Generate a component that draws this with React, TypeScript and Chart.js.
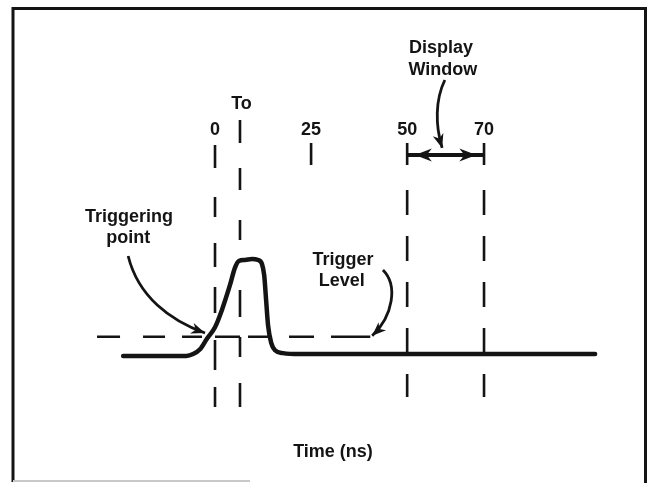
import { useEffect, useRef } from "react";
import { Chart, registerables } from "chart.js";

Chart.register(...registerables);

// ---- data (time in ns, amplitude in units of pulse height) ----
const waveTimes = [-23.9, -7.5, -5.7, -3.9, -2.1, 0, 1.8, 3.9, 5.2, 6.2, 7.8, 9.6, 11.2, 12.2, 12.8, 13.3, 13.8, 14.6, 15.6, 17.7, 22.1, 98.9];
const waveLevels = [0, 0, 0.02, 0.07, 0.18, 0.3, 0.48, 0.74, 0.92, 0.99, 1.0, 1.01, 1.0, 0.96, 0.84, 0.58, 0.32, 0.14, 0.06, 0.03, 0.02, 0.02];
const triggerLevel = 0.2;
const triggerStart = -30.7;
const triggerEnd = 40.4;
const tickTimes = [0, 25, 50, 70];
const tickLabels = ["0", "25", "50", "70"];
const toTime = 6.5;
const toLabel = "To";
const windowStart = 50;
const windowEnd = 70;
const axisTitle = "Time (ns)";

const X_MIN = -55.95;
const X_MAX = 112.67;
const Y_MIN = -1.3229;
const Y_MAX = 3.7083;

const INK = "#141414";
const FONT = "bold 18px 'Liberation Sans', Arial, sans-serif";

type P = { x: number; y: number };

function seg(t: number, y0: number, y1: number): P[] {
  return [
    { x: t, y: y0 },
    { x: t, y: y1 },
  ];
}

function guide(data: P[], dash: number[] = [], width = 2.6) {
  return {
    data,
    borderColor: INK,
    borderWidth: width,
    borderDash: dash,
    pointRadius: 0,
    tension: 0,
    fill: false,
    borderCapStyle: "butt" as const,
  };
}

function head(ctx: CanvasRenderingContext2D, x: number, y: number, ang: number, len = 14, half = 5.5) {
  ctx.save();
  ctx.translate(x, y);
  ctx.rotate(ang);
  ctx.beginPath();
  ctx.moveTo(0, 0);
  ctx.lineTo(-len, -half);
  ctx.lineTo(-len * 0.7, 0);
  ctx.lineTo(-len, half);
  ctx.closePath();
  ctx.fill();
  ctx.restore();
}

const annotate = {
  id: "annotate",
  beforeDraw(chart: any) {
    const { ctx, width, height } = chart;
    ctx.save();
    ctx.fillStyle = "#ffffff";
    ctx.fillRect(0, 0, width, height);
    ctx.strokeStyle = INK;
    ctx.lineWidth = 3;
    ctx.beginPath();
    ctx.moveTo(13, 482);
    ctx.lineTo(13, 8.5);
    ctx.lineTo(645.5, 8.5);
    ctx.lineTo(645.5, 483);
    ctx.stroke();
    ctx.strokeStyle = "#c8c8c8";
    ctx.lineWidth = 2;
    ctx.beginPath();
    ctx.moveTo(13, 481);
    ctx.lineTo(250, 481);
    ctx.stroke();
    ctx.restore();
  },
  afterDraw(chart: any) {
    const { ctx } = chart;
    const xs = chart.scales.x;
    const ys = chart.scales.y;
    const px = (v: number) => xs.getPixelForValue(v);
    const py = (v: number) => ys.getPixelForValue(v);
    ctx.save();
    ctx.fillStyle = INK;
    ctx.strokeStyle = INK;
    ctx.font = FONT;
    ctx.textAlign = "center";
    ctx.textBaseline = "middle";

    const text = (s: string, x: number, y: number) => ctx.fillText(s, px(x), py(y));
    tickTimes.forEach((t, i) => text(tickLabels[i], t, 2.354));
    text(toLabel, toTime + 0.4, 2.625);
    text("Display", 58.8, 3.208);
    text("Window", 59.3, 2.979);
    text("Triggering", -22.4, 1.448);
    text("point", -22.6, 1.229);
    text("Trigger", 33.3, 1.0);
    text("Level", 33.0, 0.781);
    text(axisTitle, 30.7, -1.0);

    // curved arrows
    const curve = (pts: number[][]) => {
      const q = pts.map(([a, b]) => [px(a), py(b)]);
      ctx.lineWidth = 2.8;
      ctx.beginPath();
      ctx.moveTo(q[0][0], q[0][1]);
      ctx.bezierCurveTo(q[1][0], q[1][1], q[2][0], q[2][1], q[3][0], q[3][1]);
      ctx.stroke();
      const ang = Math.atan2(q[3][1] - q[2][1], q[3][0] - q[2][0]);
      head(ctx, q[3][0], q[3][1], ang);
    };
    curve([
      [-22.6, 1.042],
      [-20.0, 0.62],
      [-11.7, 0.37],
      [-2.6, 0.24],
    ]);
    curve([
      [43.7, 0.896],
      [47.6, 0.74],
      [46.4, 0.42],
      [40.9, 0.21],
    ]);
    curve([
      [59.8, 2.875],
      [57.3, 2.667],
      [57.3, 2.406],
      [59.1, 2.167],
    ]);

    // display window double arrow
    const yArr = py(2.094);
    ctx.lineWidth = 4;
    ctx.beginPath();
    ctx.moveTo(px(windowStart), yArr);
    ctx.lineTo(px(windowEnd), yArr);
    ctx.stroke();
    head(ctx, px(windowStart + 2), yArr, Math.PI, 17, 6.5);
    head(ctx, px(windowEnd - 2), yArr, 0, 17, 6.5);
    ctx.restore();
  },
};

export default function App() {
  const ref = useRef<HTMLCanvasElement | null>(null);
  useEffect(() => {
    if (!ref.current) return;
    const wave: P[] = waveTimes.map((t, i) => ({ x: t, y: waveLevels[i] }));
    const chart = new Chart(ref.current, {
      type: "line",
      data: {
        datasets: [
          guide(
            [{ x: triggerStart, y: triggerLevel }, { x: triggerEnd, y: triggerLevel }],
            [23, 23, 22, 17, 20, 13, 25, 8, 21, 20, 25, 17, 40, 10],
            2.6
          ),
          guide(seg(0, 2.198, -0.531), [23, 29, 20, 26, 24, 20, 26, 27, 30, 17, 22, 10]),
          guide(seg(toTime, 2.458, 2.219)),
          guide(seg(toTime, -0.531, 1.958), [24, 26, 20, 20, 27, 50, 20, 30, 22, 10]),
          guide(seg(25, 2.219, 1.99)),
          guide(seg(windowStart, 2.219, 1.99)),
          guide(seg(windowStart, 1.729, -0.427), [25, 21]),
          guide(seg(windowEnd, 2.219, 1.99)),
          guide(seg(windowEnd, 1.729, -0.427), [25, 21]),
          {
            data: wave,
            borderColor: INK,
            borderWidth: 4.5,
            pointRadius: 0,
            cubicInterpolationMode: "monotone" as const,
            fill: false,
            borderCapStyle: "round" as const,
            borderJoinStyle: "round" as const,
          },
        ],
      },
      options: {
        animation: false,
        responsive: false,
        parsing: false as any,
        layout: { padding: 0 },
        plugins: { legend: { display: false }, tooltip: { enabled: false }, title: { display: false } },
        scales: {
          x: { type: "linear", min: X_MIN, max: X_MAX, display: false },
          y: { type: "linear", min: Y_MIN, max: Y_MAX, display: false },
        },
      },
      plugins: [annotate],
    });
    return () => chart.destroy();
  }, []);
  return (
    <div style={{ position: "fixed", left: 0, top: 0, width: 648, height: 483, background: "#fff" }}>
      <canvas ref={ref} width={648} height={483} style={{ display: "block" }} />
    </div>
  );
}
